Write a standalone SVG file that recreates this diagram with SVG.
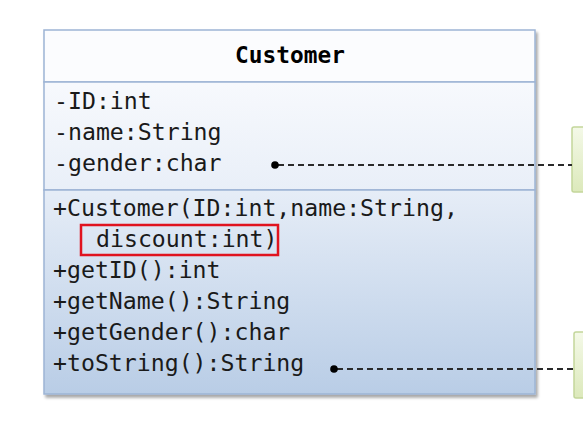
<svg xmlns="http://www.w3.org/2000/svg" width="583" height="446" viewBox="0 0 583 446">
<defs>
<linearGradient id="gAttr" x1="0" y1="0" x2="0" y2="1"><stop offset="0" stop-color="#f7f9fd"/><stop offset="1" stop-color="#e9eff8"/></linearGradient>
<linearGradient id="gMeth" x1="0" y1="0" x2="0" y2="1"><stop offset="0" stop-color="#e6edf7"/><stop offset="1" stop-color="#b9cde6"/></linearGradient>
<linearGradient id="gNote" x1="0" y1="0" x2="0" y2="1"><stop offset="0" stop-color="#f4f9e8"/><stop offset="1" stop-color="#dce9bb"/></linearGradient>
<filter id="sh" x="-5%" y="-5%" width="115%" height="115%"><feGaussianBlur in="SourceAlpha" stdDeviation="1.5"/><feOffset dx="2" dy="3"/><feComponentTransfer><feFuncA type="linear" slope="0.35"/></feComponentTransfer><feMerge><feMergeNode/><feMergeNode in="SourceGraphic"/></feMerge></filter>
</defs>
<style>
.t{font-family:"DejaVu Sans Mono","Liberation Mono",monospace;font-size:23.2px;fill:#1a1a1a}
.h{font-weight:bold;font-size:22.8px;fill:#000}
.sec{stroke:#9db4d5;stroke-width:1.5}
.dash{stroke:#2a2a2a;stroke-width:1.8;stroke-dasharray:6 4;fill:none}
.note{fill:url(#gNote);stroke:#c3d69b;stroke-width:1.5}
</style>
<rect width="583" height="446" fill="#ffffff"/>
<g id="Customer">
<g filter="url(#sh)">
<rect x="44" y="30" width="491" height="52" fill="#fbfcfe" class="sec"/>
<rect x="44" y="82" width="491" height="108" fill="url(#gAttr)" class="sec"/>
<rect x="44" y="190" width="491" height="204" fill="url(#gMeth)" class="sec"/>
</g>
<text class="t h" x="290" y="63" text-anchor="middle">Customer</text>
<text class="t" x="54" y="109">-ID:int</text>
<text class="t" x="54" y="140">-name:String</text>
<text class="t" x="54" y="171">-gender:char</text>
<text class="t" x="53" y="216">+Customer(ID:int,name:String,</text>
<text class="t" x="96" y="247">discount:int)</text>
<text class="t" x="53" y="278">+getID():int</text>
<text class="t" x="53" y="309">+getName():String</text>
<text class="t" x="53" y="340">+getGender():char</text>
<text class="t" x="53" y="371">+toString():String</text>
<rect x="81" y="225" width="197" height="30" fill="none" stroke="#e0131f" stroke-width="2.5"/>
</g>
<g id="note1"><rect x="572" y="127" width="20" height="65" rx="2" class="note"/></g>
<g id="note2"><rect x="574" y="332" width="20" height="66" rx="2" class="note"/></g>
<g id="connectors">
<line x1="278" y1="165" x2="572" y2="165" class="dash"/>
<circle cx="275" cy="165" r="3.8" fill="#000"/>
<line x1="337" y1="369" x2="574" y2="369" class="dash"/>
<circle cx="334" cy="369" r="3.8" fill="#000"/>
</g>
</svg>
